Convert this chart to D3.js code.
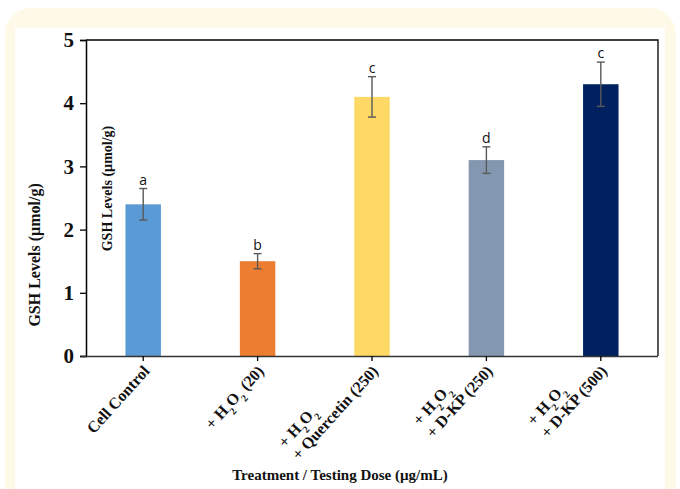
<!DOCTYPE html>
<html>
<head>
<meta charset="utf-8">
<script src="https://cdn.jsdelivr.net/npm/d3@7"></script>
<style>
  body { margin: 0; background: #fff; }
  svg { display: block; }
</style>
</head>
<body>
<svg id="chart" width="680" height="489"></svg>
<script>
// data
const categories = ['cc', 'h2o2', 'querc', 'dkp250', 'dkp500'];
const labelLines = [
  [['Cell Control']],
  [['+ H', ''], ['2', 'sub'], ['O', ''], ['2', 'sub'], [' (20)', '']],
  null,
  null,
  null,
];
const twoLine = {
  querc: 'Quercetin (250)',
  dkp250: 'D-KP (250)',
  dkp500: 'D-KP (500)',
};
const values = [2.4, 1.5, 4.1, 3.1, 4.3];
const errors = [0.25, 0.12, 0.32, 0.21, 0.35];
const letters = ['a', 'b', 'c', 'd', 'c'];
const colors = ['#5b9bd5', '#ed7d31', '#ffd966', '#8497b0', '#002060'];
const yTicks = [0, 1, 2, 3, 4, 5];

const width = 680;
const height = 489;
const paddingLeft = 86;
const paddingRight = 22;
const paddingTop = 40;
const paddingBottom = 133;
const serif = '"Liberation Serif", "Times New Roman", serif';

const svg = d3.select('#chart');

// card background
svg.append('rect')
  .attr('x', 5).attr('y', 8)
  .attr('width', 671).attr('height', 520)
  .attr('rx', 26)
  .attr('fill', '#fffae8');
svg.append('rect')
  .attr('x', 15).attr('y', 28)
  .attr('width', 650).attr('height', 470)
  .attr('fill', '#fff');

const xScale = d3.scaleBand()
  .domain(categories)
  .range([paddingLeft, width - paddingRight])
  .paddingInner(0.69)
  .paddingOuter(0.345);

const yScale = d3.scaleLinear()
  .domain([0, 5])
  .range([height - paddingBottom, paddingTop]);

// frame top + right
svg.append('path')
  .attr('d', `M${paddingLeft},${paddingTop}H${width - paddingRight}V${height - paddingBottom}`)
  .attr('fill', 'none')
  .attr('stroke', '#000')
  .attr('stroke-width', 1.3);

// bars
svg.selectAll('.bar')
  .data(values)
  .enter()
  .append('rect')
  .attr('class', 'bar')
  .attr('x', (d, i) => xScale(categories[i]))
  .attr('y', (d) => yScale(d))
  .attr('width', xScale.bandwidth())
  .attr('height', (d) => yScale(0) - yScale(d))
  .attr('fill', (d, i) => colors[i]);

// error bars
const cx = (i) => xScale(categories[i]) + xScale.bandwidth() / 2;
const err = svg.append('g')
  .attr('stroke', '#595959')
  .attr('stroke-width', 1.4);
values.forEach((v, i) => {
  const top = yScale(v + errors[i]);
  const bot = yScale(v - errors[i]);
  err.append('line').attr('x1', cx(i)).attr('x2', cx(i)).attr('y1', top).attr('y2', bot);
  err.append('line').attr('x1', cx(i) - 4).attr('x2', cx(i) + 4).attr('y1', top).attr('y2', top);
  err.append('line').attr('x1', cx(i) - 4).attr('x2', cx(i) + 4).attr('y1', bot).attr('y2', bot);
});

// significance letters
svg.selectAll('.letter')
  .data(letters)
  .enter()
  .append('text')
  .attr('class', 'letter')
  .attr('x', (d, i) => cx(i))
  .attr('y', (d, i) => yScale(values[i] + errors[i]) - 4)
  .attr('text-anchor', 'middle')
  .attr('font-family', '"Open Sans", "Liberation Sans", sans-serif')
  .attr('font-size', 14)
  .attr('fill', '#111')
  .text((d) => d);

// y axis
const yAxis = d3.axisLeft(yScale)
  .tickValues(yTicks)
  .tickSize(6)
  .tickPadding(6)
  .tickFormat(d3.format('d'));
const gy = svg.append('g')
  .attr('transform', `translate(${paddingLeft},0)`)
  .call(yAxis);
gy.select('.domain').attr('stroke-width', 1.5);
gy.selectAll('.tick line').attr('stroke-width', 1.3);
gy.selectAll('text')
  .attr('font-family', serif)
  .attr('font-weight', 'bold')
  .attr('font-size', 21)
  .attr('fill', '#111');

// x axis
const xAxis = d3.axisBottom(xScale)
  .tickSize(5)
  .tickSizeOuter(0)
  .tickFormat('');
const gx = svg.append('g')
  .attr('transform', `translate(0,${height - paddingBottom})`)
  .call(xAxis);
gx.select('.domain')
  .attr('d', `M${paddingLeft - 5},0.5H${width - paddingRight}`)
  .attr('stroke-width', 1.6)
  .attr('stroke', '#333');
gx.selectAll('.tick line').attr('stroke-width', 1.3);

function addRuns(textSel, runs) {
  runs.forEach(([s, kind]) => {
    const t = textSel.append('tspan').text(s);
    if (kind === 'sub') t.attr('baseline-shift', 'sub').attr('font-size', 10);
  });
}
const h2o2Runs = [['+ H', ''], ['2', 'sub'], ['O', ''], ['2', 'sub']];

categories.forEach((c, i) => {
  const g = svg.append('g')
    .attr('transform', `translate(${cx(i) + 3},${height - paddingBottom + 12}) rotate(-48)`)
    .attr('font-family', serif)
    .attr('font-weight', 'bold')
    .attr('font-size', 16)
    .attr('fill', '#111');
  if (labelLines[i]) {
    const t = g.append('text').attr('text-anchor', 'end').attr('dy', '0.35em');
    addRuns(t, labelLines[i]);
  } else {
    const l2 = g.append('text').attr('text-anchor', 'end').attr('dy', '0.35em').text('+ ' + twoLine[c]);
    const len = l2.node().getComputedTextLength();
    const l1 = g.append('text').attr('x', -len).attr('dy', '-0.8em');
    addRuns(l1, h2o2Runs);
  }
});

// axis titles
svg.append('text')
  .attr('transform', `translate(40,${yScale(1.6)}) rotate(-90)`)
  .attr('text-anchor', 'middle')
  .attr('font-family', serif)
  .attr('font-weight', 'bold')
  .attr('font-size', 16)
  .attr('fill', '#111')
  .text('GSH Levels (µmol/g)');

svg.append('text')
  .attr('transform', `translate(112,${yScale(2.65)}) rotate(-90)`)
  .attr('text-anchor', 'middle')
  .attr('font-family', serif)
  .attr('font-weight', 'bold')
  .attr('font-size', 14)
  .attr('fill', '#111')
  .text('GSH Levels (µmol/g)');

svg.append('text')
  .attr('x', 340)
  .attr('y', 480)
  .attr('text-anchor', 'middle')
  .attr('font-family', serif)
  .attr('font-weight', 'bold')
  .attr('font-size', 15)
  .attr('fill', '#111')
  .text('Treatment / Testing Dose (µg/mL)');
</script>
</body>
</html>
